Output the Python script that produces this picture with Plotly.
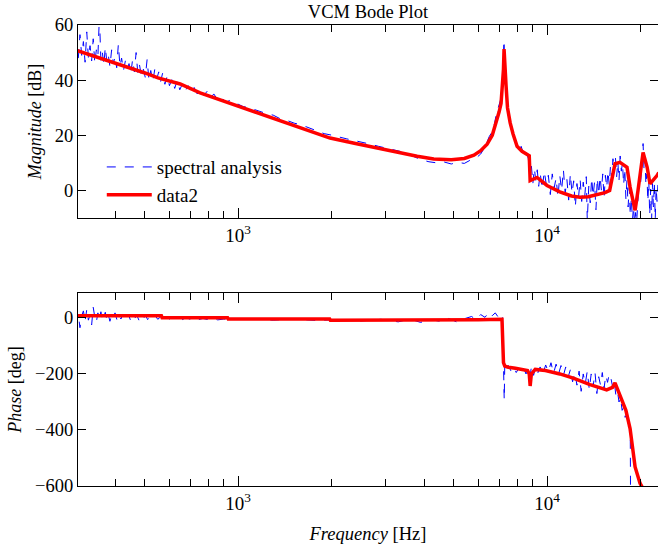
import plotly.graph_objects as go

# ---------------- data ----------------
# Spectral analysis (measured), magnitude
spec_freq_mag = [300, 304, 308, 312, 316, 320, 324, 328, 332, 336, 340, 344, 348, 352, 356, 360,
                 364, 368, 372, 376, 380, 385, 390, 395, 400, 405, 410, 415, 420, 426, 432, 438,
                 444, 450, 456, 462, 468, 474, 480, 487, 494, 501, 508, 515, 522, 530, 538, 546,
                 554, 562, 570, 580, 590, 600, 612, 624, 636, 648, 660, 675, 690, 705, 720, 738,
                 756, 775, 795, 815, 835, 860, 885, 910, 940, 970,
                 1000, 1040, 1080, 1130, 1180, 1240, 1300, 1370, 1440, 1520, 1600, 1700, 1800,
                 1900, 2000, 2120, 2250, 2400, 2550, 2700, 2850, 3000, 3200, 3400, 3650, 3900,
                 4150, 4400, 4650, 4900, 5150, 5400, 5650, 5900, 6100, 6300, 6500, 6700, 6850,
                 6980, 7080, 7160, 7220, 7260, 7300, 7360, 7440, 7540, 7660, 7800, 7950, 8100,
                 8250, 8400, 8550, 8700, 8800, 8900, 9000, 9100, 9200, 9300, 9400,
                 9500, 9650, 9800, 9950, 10100, 10250, 10400, 10550, 10700, 10850, 11000, 11150,
                 11300, 11450, 11600, 11750, 11900, 12050, 12200, 12350, 12500, 12650, 12800,
                 12950, 13100, 13250, 13400, 13500, 13650, 13800, 13950, 14100, 14250, 14400,
                 14550, 14700, 14850, 15000, 15150, 15300, 15450, 15600, 15750, 15900, 16050,
                 16200, 16350, 16500, 16650, 16800, 16950, 17100, 17250, 17400, 17550, 17700,
                 17850, 18000, 18150, 18300, 18450, 18600, 18750, 18900, 19050, 19200, 19350,
                 19500, 19650, 19800, 19950, 20100, 20300, 20460, 20600, 20750, 20900, 21050,
                 21200, 21350, 21500, 21650, 21800, 21950, 22100, 22250, 22400, 22550, 22700, 22850]
spec_mag_db = [53.5, 47.5, 56.5, 49.0, 54.0, 46.5, 57.5, 48.0, 52.5, 47.0, 55.0, 46.0, 51.0, 48.5, 63.0, 47.0,
               50.0, 45.5, 52.0, 47.0, 49.5, 45.0, 51.0, 46.0, 48.5, 44.5, 53.0, 45.0, 48.0, 43.5, 47.0, 44.0,
               46.0, 42.5, 47.5, 43.0, 50.0, 42.5, 45.5, 41.5, 44.0, 41.0, 47.5, 40.0, 43.5, 39.5, 44.0, 40.5,
               43.0, 39.5, 42.5, 38.5, 41.5, 38.0, 40.5, 37.0, 40.0, 36.5, 38.5, 36.0, 38.0, 35.5, 37.5, 35.0,
               37.0, 34.5, 36.0, 33.5, 35.0, 32.8, 33.8, 32.0, 32.6, 31.2,
               31.3, 30.4, 30.1, 29.3, 28.8, 27.8, 27.3, 26.0, 25.4, 24.4, 23.8, 22.7, 21.7,
               20.6, 20.1, 19.3, 18.7, 18.0, 17.4, 16.7, 16.0, 15.4, 14.7, 14.0, 12.6, 11.2,
               10.4, 10.0, 10.3, 9.6, 10.2, 9.8, 11.0, 11.8, 13.2, 15.8, 19.5, 22.0, 27.5,
               30.5, 33.0, 39.0, 46.0, 54.5, 44.0, 38.5, 31.5, 26.5, 23.5, 19.0, 18.0, 15.0,
               16.0, 13.0, 14.5, 11.5, 5.0, 9.0, 2.5, 8.0, 3.5, 7.5, 1.5,
               6.5, 0.5, 7.0, 2.0, 5.5, -1.5, 6.0, 1.0, 4.5, -2.5, 5.5, 0.0,
               7.5, -1.0, 4.0, -3.5, 6.0, -1.0, 3.5, -6.0, 2.5, -2.5, 4.0,
               -4.0, 3.0, -2.0, 5.0, -11.0, 1.5, -4.5, 4.5, -2.0, 3.0, -7.0,
               4.5, -1.5, 5.0, 0.0, 6.0, -3.0, 5.5, 1.0, 7.0, 2.0, 9.0,
               4.5, 11.5, 6.5, 12.0, 5.0, 10.5, 3.5, 12.5, 7.0, 10.0, 2.0,
               8.0, -3.0, 4.0, -6.0, 1.0, -9.0, -2.5, -11.0, -6.0, -12.0, -8.0,
               -11.5, -3.0, 1.0, 6.0, 3.0, 11.0, 17.0, 8.0, 12.0, 2.0, 6.0,
               -4.0, 3.5, -9.0, 0.5, -11.0, 2.5, -6.0, 3.0, -10.5, 1.0, -4.0, 2.0]

# Fitted model (data2), magnitude
model_freq_mag = [300, 400, 500, 551, 650, 754, 900, 1054, 1250, 1473, 1700, 1986, 2400, 2884,
                  3350, 3800, 4300, 4900, 5400, 5800, 6100, 6400, 6650, 6850, 7000, 7100, 7180,
                  7230, 7261, 7300, 7370, 7450, 7600, 7765, 8000, 8300, 8687, 8760, 8818, 9290,
                  10000, 11000, 12000, 12790, 13600, 14510, 15400, 15950, 16600, 17220, 18150,
                  18570, 19280, 19700, 20460, 21090, 21540, 22700, 23000]
model_mag_db = [50.8, 46.3, 42.6, 40.8, 38.6, 35.4, 32.4, 29.5, 26.8, 24.0, 21.6, 19.0, 17.0, 15.1,
                13.5, 12.4, 11.4, 11.1, 11.6, 12.8, 14.4, 16.8, 20.0, 24.5, 28.5, 31.5, 37.5,
                44.0, 51.3, 45.0, 38.0, 30.0, 24.5, 20.5, 16.0, 14.2, 13.0, 12.6, 3.6, 4.7,
                1.8, -0.5, -2.0, -2.5, -2.3, -1.6, -0.8, 0.0, 9.7, 10.2, 8.4,
                1.2, -7.2, 0.0, 13.8, 8.4, 2.4, 5.4, 6.5]

# Spectral analysis (measured), phase
spec_freq_ph = [300, 304, 308, 312, 316, 320, 324, 328, 332, 336, 340, 344, 348, 352, 356, 360,
                364, 368, 372, 376, 380, 385, 390, 395, 400, 406, 412, 418, 424, 430, 436, 442,
                448, 455, 462, 470, 478, 486, 494, 502, 510, 520, 530, 540, 550, 562, 574, 586,
                600, 615, 630, 645, 660, 680, 700, 720, 745, 770, 800, 830, 860, 900,
                950, 1100, 1300, 1500, 1800, 2100, 2500, 2900, 3300, 3600, 3900, 4200, 4500,
                4800, 5100, 5400, 5700, 5900, 6100, 6300, 6500, 6650, 6800, 6950, 7100, 7180,
                7240, 7270, 7300, 7400, 7500, 7650, 7800, 7950, 8100, 8250, 8400, 8550, 8700,
                8800, 8900, 9050, 9200, 9350, 9500, 9700, 9900, 10100, 10300, 10500, 10700,
                10900, 11100, 11300, 11500, 11700, 11900, 12100, 12300, 12500, 12700, 12900,
                13100, 13300, 13500, 13700, 13900, 14100, 14300, 14500, 14700, 14900, 15100,
                15300, 15500, 15700, 15900, 16100, 16300, 16500, 16700, 16900, 17100, 17300,
                17500, 17700, 17900, 18100, 18300, 18500, 18600, 18650]
spec_ph_deg = [-20, 15, -35, 8, 25, -12, 30, -8, 12, -25, 38, 2, -15, 18, -5, 22,
               -10, 8, 20, -6, 14, -12, 10, 2, 18, -8, 10, -4, 14, -10, 6, 12,
               -6, 8, -4, 10, -8, 6, -3, 9, -6, 5, -4, 7, -5, 4, -6, 3,
               -4, 4, -5, 2, -6, 1, -5, -1, -6, -2, -6, -3, -7, -4,
               -6, -3, -8, -4, -9, -6, -11, -5, -14, -4, -16, -6, -12,
               -2, -14, -3, 5, -6, 12, 2, 22, 8, 18, 3, 15, 0,
               -160, -293, -165, -185, -170, -190, -176, -195, -180, -192, -178, -200, -185,
               -215, -175, -205, -170, -195, -175, -200, -168, -192, -160, -198, -165,
               -200, -170, -205, -175, -212, -185, -228, -195, -240, -190, -262,
               -200, -235, -190, -255, -200, -245, -195, -270, -210, -240, -195,
               -250, -205, -230, -200, -215, -245, -225, -275, -260, -300, -285,
               -330, -320, -355, -345, -390, -380, -430, -720]

# Fitted model (data2), phase
model_freq_ph = [300, 565, 568, 925, 930, 1980, 1990, 4000, 6000, 7150, 7230, 7300, 7500, 7900,
                 8300, 8650, 8760, 8820, 8900, 9160, 9880, 11000, 12160, 13780, 15600, 16300,
                 16600, 17500, 18000, 18570, 19280, 20000, 20300]
model_ph_deg = [8, 8, 1, 1, -4, -4, -8, -9, -7, -5, -160, -172, -176, -180,
                -184, -188, -200, -243, -200, -184, -188, -200, -215, -238, -257, -248,
                -232, -293, -330, -395, -532, -590, -603]

# Axis ticks
major_ticks = [1000, 10000]
major_text = ["10<sup>3</sup>", "10<sup>4</sup>"]
minor_ticks = [400, 500, 600, 700, 800, 900, 2000, 3000, 4000, 5000, 6000, 7000, 8000, 9000, 20000]
mag_ticks = [0, 20, 40, 60]
ph_ticks = [-600, -400, -200, 0]

# ---------------- figure ----------------
FONT = "Liberation Serif, Times New Roman, serif"
BLUE = "#0000ff"
RED = "#ff0000"

fig = go.Figure()
fig.add_trace(go.Scatter(x=spec_freq_mag, y=spec_mag_db, mode="lines", name="spectral analysis",
                         line=dict(color=BLUE, width=1, dash="dash"), xaxis="x", yaxis="y"))
fig.add_trace(go.Scatter(x=model_freq_mag, y=model_mag_db, mode="lines", name="data2",
                         line=dict(color=RED, width=3.5), xaxis="x", yaxis="y"))
fig.add_trace(go.Scatter(x=spec_freq_ph, y=spec_ph_deg, mode="lines", showlegend=False,
                         line=dict(color=BLUE, width=1, dash="dash"), xaxis="x2", yaxis="y2"))
fig.add_trace(go.Scatter(x=model_freq_ph, y=model_ph_deg, mode="lines", showlegend=False,
                         line=dict(color=RED, width=3.5), xaxis="x2", yaxis="y2"))

xcommon = dict(type="log", range=[2.4822, 4.3592], tickmode="array", tickvals=major_ticks,
               ticktext=major_text, ticks="inside", ticklen=10, tickcolor="black",
               mirror="allticks", showline=True, linecolor="black", linewidth=1,
               showgrid=False, zeroline=False,
               minor=dict(tickmode="array", tickvals=minor_ticks, ticks="inside", ticklen=7,
                          tickcolor="black", showgrid=False),
               tickfont=dict(family=FONT, size=19, color="black"))
ycommon = dict(ticks="inside", ticklen=8, tickcolor="black", mirror="allticks", showline=True,
               linecolor="black", linewidth=1, showgrid=False, zeroline=False,
               tickfont=dict(family=FONT, size=18.5, color="black"))

fig.update_layout(
    width=658, height=551,
    margin=dict(l=78, r=0, t=25, b=65),
    paper_bgcolor="white", plot_bgcolor="white",
    font=dict(family=FONT, size=18, color="black"),
    title=dict(text="VCM Bode Plot", x=0.5, xref="paper", xanchor="center",
               y=1 - 12 / 551, yref="container", yanchor="middle",
               font=dict(family=FONT, size=18.5, color="black")),
    xaxis=dict(xcommon, anchor="y", domain=[0, 1]),
    yaxis=dict(ycommon, domain=[0.5813, 1], range=[-10, 60], tickmode="array", tickvals=mag_ticks,
               title=dict(text="<i>Magnitude</i> [dB]", standoff=8,
                          font=dict(family=FONT, size=18, color="black"))),
    xaxis2=dict(xcommon, anchor="y2", domain=[0, 1],
                title=dict(text="<i>Frequency</i> [Hz]", standoff=14,
                           font=dict(family=FONT, size=18.5, color="black"))),
    yaxis2=dict(ycommon, domain=[0, 0.4187], range=[-600, 89], tickmode="array", tickvals=ph_ticks,
                title=dict(text="<i>Phase</i> [deg]", standoff=8,
                           font=dict(family=FONT, size=18, color="black"))),
    legend=dict(x=0.041, y=0.733, xanchor="left", yanchor="top", bgcolor="rgba(0,0,0,0)",
                borderwidth=0, itemwidth=45, font=dict(family=FONT, size=19, color="black")),
    showlegend=True,
)

fig.write_html("out.html", config={"displayModeBar": False},
               post_script="document.body.style.margin='0';document.body.style.padding='0';"
                           "document.body.style.overflow='hidden';")
